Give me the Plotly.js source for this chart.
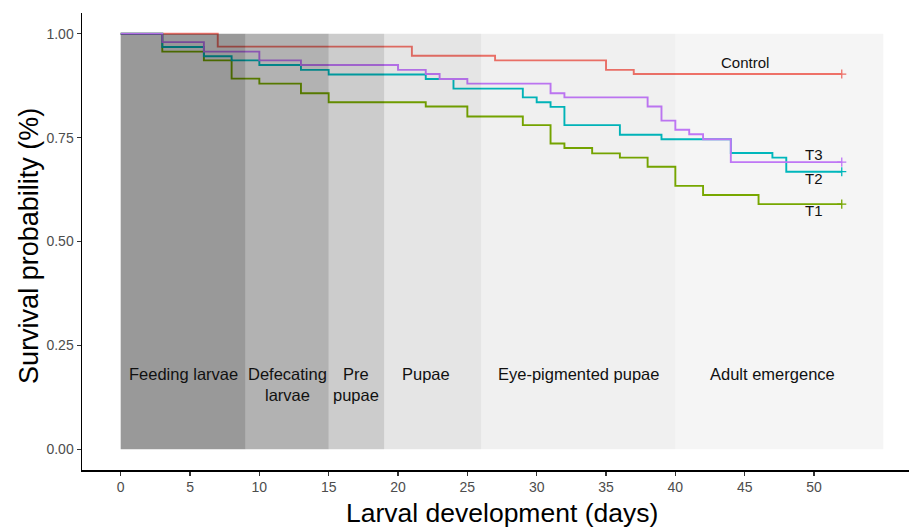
<!DOCTYPE html>
<html>
<head>
<meta charset="utf-8">
<script src="https://cdn.plot.ly/plotly-3.0.1.min.js"></script>
<style>html,body{margin:0;padding:0;background:#fff;}#chart{width:909px;height:527px;}</style>
</head>
<body>
<div id="chart"></div>
<script>
// Kaplan-Meier step data (day of drop, survival after drop)
const controlDays = [0, 7, 21, 27, 35, 37, 52];
const controlSurv = [1, 0.969, 0.947, 0.936, 0.913, 0.903, 0.903];

const t1Days = [0, 3, 6, 8, 10, 13, 15, 22, 25, 29, 31, 32, 34, 36, 38, 40, 42, 46, 52];
const t1Surv = [1, 0.957, 0.936, 0.892, 0.880, 0.857, 0.835, 0.825, 0.801, 0.780, 0.736, 0.725, 0.712, 0.702, 0.680, 0.634, 0.612, 0.590, 0.590];

const t2Days = [0, 3, 6, 8, 10, 13, 15, 22, 24, 29, 30, 31, 32, 36, 39, 44, 47, 48, 52];
const t2Surv = [1, 0.968, 0.946, 0.936, 0.925, 0.913, 0.902, 0.891, 0.868, 0.847, 0.835, 0.824, 0.780, 0.757, 0.746, 0.713, 0.702, 0.668, 0.668];

const t3Days = [0, 3, 6, 10, 13, 20, 22, 23, 25, 31, 32, 38, 39, 40, 41, 42, 44, 52];
const t3Surv = [1, 0.980, 0.957, 0.936, 0.925, 0.913, 0.903, 0.891, 0.880, 0.857, 0.847, 0.825, 0.791, 0.769, 0.758, 0.746, 0.691, 0.691];

const groupNames = ['Control', 'T1', 'T2', 'T3'];
const groupColors = ['#F8766D', '#7CAE00', '#00BFC4', '#C77CFF'];
const groupLabelX = [45, 50, 50, 50];
const groupLabelY = [0.930, 0.575, 0.651, 0.709];

// developmental stages
const stageNames = ['Feeding larvae', 'Defecating<br>larvae', 'Pre<br>pupae', 'Pupae', 'Eye-pigmented pupae', 'Adult emergence'];
const stageStart = [0, 9, 15, 19, 26, 40];
const stageEnd = [9, 15, 19, 26, 40, 55];
const stageLabelX = [4.5, 12, 17, 22, 33, 47];
const stageAlpha = [0.40, 0.30, 0.20, 0.10, 0.06, 0.04];

const xTicks = [0, 5, 10, 15, 20, 25, 30, 35, 40, 45, 50];
const yTicks = [0, 0.25, 0.5, 0.75, 1];
const yTickText = ['0.00', '0.25', '0.50', '0.75', '1.00'];

const seriesDays = [controlDays, t1Days, t2Days, t3Days];
const seriesSurv = [controlSurv, t1Surv, t2Surv, t3Surv];

const FONT = '"Liberation Sans", Arial, sans-serif';

const traces = [];
for (let i = 0; i < groupNames.length; i++) {
  traces.push({
    x: seriesDays[i], y: seriesSurv[i], type: 'scatter', mode: 'lines',
    line: {shape: 'hv', color: groupColors[i], width: 1.9},
    name: groupNames[i], hoverinfo: 'x+y+name'
  });
}
for (let i = 0; i < groupNames.length; i++) {
  const n = seriesDays[i].length - 1;
  traces.push({
    x: [seriesDays[i][n]], y: [seriesSurv[i][n]], type: 'scatter', mode: 'markers',
    marker: {symbol: 'cross-thin-open', size: 6.5, line: {color: groupColors[i], width: 1.3}, color: groupColors[i]},
    showlegend: false, hoverinfo: 'skip'
  });
}

const shapes = stageNames.map((s, i) => ({
  type: 'rect', xref: 'x', yref: 'y', x0: stageStart[i], x1: stageEnd[i], y0: 0, y1: 1,
  fillcolor: 'rgba(0,0,0,' + stageAlpha[i] + ')', line: {width: 0}, layer: 'above'
}));

const annotations = [];
stageNames.forEach((s, i) => {
  annotations.push({
    x: stageLabelX[i], y: 0.208, xref: 'x', yref: 'y', text: s, showarrow: false,
    xanchor: 'center', yanchor: 'top', font: {family: FONT, size: 16.5, color: '#111'}, align: 'center'
  });
});
groupNames.forEach((g, i) => {
  annotations.push({
    x: groupLabelX[i], y: groupLabelY[i], xref: 'x', yref: 'y', text: g, showarrow: false,
    xanchor: 'center', yanchor: 'middle', font: {family: FONT, size: 15, color: '#111'}
  });
});
// axis titles
annotations.push({
  x: 27.5, xref: 'x', y: -0.094, yref: 'paper', text: 'Larval development (days)', showarrow: false,
  xanchor: 'center', yanchor: 'middle', font: {family: FONT, size: 26.5, color: '#000'}
});
annotations.push({
  x: -0.065, xref: 'paper', y: 0.49, yref: 'y', text: 'Survival probability (%)', showarrow: false,
  textangle: -90, xanchor: 'center', yanchor: 'middle', font: {family: FONT, size: 27, color: '#000'}
});

const layout = {
  width: 909, height: 527,
  margin: {l: 82, r: 0, t: 13, b: 57, pad: 0},
  paper_bgcolor: '#fff', plot_bgcolor: '#fff',
  showlegend: false,
  font: {family: FONT},
  xaxis: {
    range: [-2.79, 56.85], tickvals: xTicks, showgrid: false, zeroline: false,
    showline: true, linecolor: '#000', linewidth: 1.5,
    ticks: 'outside', ticklen: 4, tickwidth: 1.2, tickcolor: '#333',
    tickfont: {family: FONT, size: 14, color: '#4d4d4d'}
  },
  yaxis: {
    range: [-0.05, 1.05], tickvals: yTicks, ticktext: yTickText, showgrid: false, zeroline: false,
    showline: true, linecolor: '#000', linewidth: 1.5,
    ticks: 'outside', ticklen: 4, tickwidth: 1.2, tickcolor: '#333',
    tickfont: {family: FONT, size: 14, color: '#4d4d4d'}
  },
  shapes: shapes,
  annotations: annotations
};

Plotly.newPlot('chart', traces, layout, {displayModeBar: false, staticPlot: true});
</script>
</body>
</html>
